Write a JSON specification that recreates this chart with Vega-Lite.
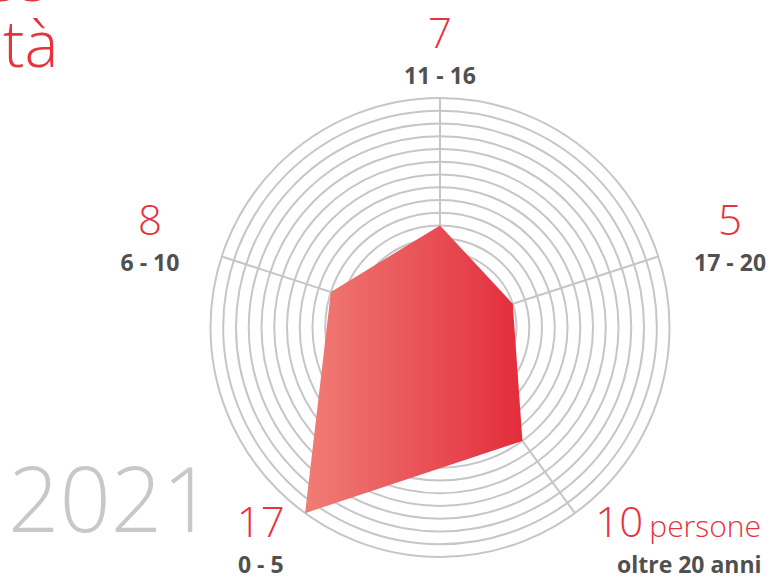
{
  "$schema": "https://vega.github.io/schema/vega-lite/v6.json",
  "width": 771,
  "height": 578,
  "autosize": {"type": "none"},
  "padding": 0,
  "background": "#ffffff",
  "config": {"view": {"stroke": null}},
  "datasets": {
    "fasce": [
      {"fascia": "11 - 16", "persone": 7},
      {"fascia": "17 - 20", "persone": 5},
      {"fascia": "oltre 20 anni", "persone": 10},
      {"fascia": "0 - 5", "persone": 17},
      {"fascia": "6 - 10", "persone": 8}
    ],
    "anelli": [
      {"anello": 0}, {"anello": 1}, {"anello": 2}, {"anello": 3}, {"anello": 4}, {"anello": 5},
      {"anello": 6}, {"anello": 7}, {"anello": 8}, {"anello": 9}, {"anello": 10}, {"anello": 11},
      {"anello": 12}, {"anello": 13}, {"anello": 14}, {"anello": 15}, {"anello": 16}, {"anello": 17}
    ],
    "testi": [
      {"titolo": "Le fasce\ndelle età", "anno": "2021"}
    ]
  },
  "layer": [
    {
      "data": {"name": "anelli"},
      "transform": [{"calculate": "0", "as": "centro"}],
      "mark": {"type": "arc", "theta": 0, "theta2": 6.2832, "filled": false, "stroke": "#c6c6c6", "strokeWidth": 2},
      "encoding": {
        "x": {"field": "centro", "type": "quantitative", "scale": {"domain": [-34.51, 25.96], "nice": false, "zero": false}, "axis": null},
        "y": {"field": "centro", "type": "quantitative", "scale": {"domain": [-19.65, 25.68], "nice": false, "zero": false}, "axis": null},
        "radius": {"field": "anello", "type": "quantitative", "stack": null, "scale": {"type": "linear", "domain": [-1, 17], "range": [0, 229.5], "zero": false}, "legend": null}
      }
    },
    {
      "data": {"name": "fasce"},
      "transform": [
        {"calculate": "indexof(['11 - 16', '17 - 20', 'oltre 20 anni', '0 - 5', '6 - 10'], datum.fascia) * 2 * PI / 5", "as": "ang"},
        {"calculate": "0", "as": "centro"},
        {"calculate": "18 * sin(datum.ang)", "as": "sx"},
        {"calculate": "18 * cos(datum.ang)", "as": "sy"}
      ],
      "mark": {"type": "rule", "stroke": "#c6c6c6", "strokeWidth": 2},
      "encoding": {
        "x": {"field": "centro", "type": "quantitative", "scale": {"domain": [-34.51, 25.96], "nice": false, "zero": false}, "axis": null},
        "y": {"field": "centro", "type": "quantitative", "scale": {"domain": [-19.65, 25.68], "nice": false, "zero": false}, "axis": null},
        "x2": {"field": "sx"},
        "y2": {"field": "sy"}
      }
    },
    {
      "data": {"name": "fasce"},
      "transform": [
        {"calculate": "indexof(['11 - 16', '17 - 20', 'oltre 20 anni', '0 - 5', '6 - 10'], datum.fascia)", "as": "ordine"},
        {"calculate": "datum.ordine * 2 * PI / 5", "as": "ang"},
        {"calculate": "(datum.persone + 1) * sin(datum.ang)", "as": "px"},
        {"calculate": "(datum.persone + 1) * cos(datum.ang)", "as": "py"}
      ],
      "mark": {
        "type": "line",
        "interpolate": "linear-closed",
        "strokeWidth": 0,
        "fill": {
          "gradient": "linear", "x1": 0, "y1": 0, "x2": 1, "y2": 0,
          "stops": [{"offset": 0, "color": "#f07d76"}, {"offset": 1, "color": "#e32d3c"}]
        }
      },
      "encoding": {
        "x": {"field": "px", "type": "quantitative", "scale": {"domain": [-34.51, 25.96], "nice": false, "zero": false}, "axis": null},
        "y": {"field": "py", "type": "quantitative", "scale": {"domain": [-19.65, 25.68], "nice": false, "zero": false}, "axis": null},
        "order": {"field": "ordine", "type": "quantitative"}
      }
    },
    {
      "data": {"name": "fasce"},
      "transform": [
        {"calculate": "indexof(['11 - 16', '17 - 20', 'oltre 20 anni', '0 - 5', '6 - 10'], datum.fascia) * 2 * PI / 5", "as": "ang"},
        {"calculate": "23.92 * sin(datum.ang)", "as": "lx"},
        {"calculate": "21.18 * cos(datum.ang)", "as": "ly"}
      ],
      "layer": [
        {
          "mark": {"type": "text", "align": "center", "baseline": "alphabetic", "dy": -9, "font": "Open Sans", "fontWeight": 300, "fontSize": 42, "color": "#e5333f"},
          "encoding": {"text": {"field": "persone", "type": "quantitative"}}
        },
        {
          "transform": [{"filter": "datum.fascia == 'oltre 20 anni'"}],
          "mark": {"type": "text", "align": "left", "baseline": "alphabetic", "dx": 30, "dy": -9, "font": "Open Sans", "fontWeight": 300, "fontSize": 30, "color": "#e5333f"},
          "encoding": {"text": {"value": "persone"}}
        },
        {
          "transform": [{"filter": "datum.fascia != 'oltre 20 anni'"}],
          "mark": {"type": "text", "align": "center", "baseline": "alphabetic", "dy": 27, "font": "Open Sans", "fontWeight": "bold", "fontSize": 23, "color": "#505050"},
          "encoding": {"text": {"field": "fascia", "type": "nominal"}}
        },
        {
          "transform": [{"filter": "datum.fascia == 'oltre 20 anni'"}],
          "mark": {"type": "text", "align": "center", "baseline": "alphabetic", "dx": 70, "dy": 27, "font": "Open Sans", "fontWeight": "bold", "fontSize": 23, "color": "#505050"},
          "encoding": {"text": {"field": "fascia", "type": "nominal"}}
        }
      ],
      "encoding": {
        "x": {"field": "lx", "type": "quantitative", "scale": {"domain": [-34.51, 25.96], "nice": false, "zero": false}, "axis": null},
        "y": {"field": "ly", "type": "quantitative", "scale": {"domain": [-19.65, 25.68], "nice": false, "zero": false}, "axis": null}
      }
    },
    {
      "data": {"name": "testi"},
      "transform": [{"calculate": "-33.88", "as": "ax"}, {"calculate": "-16.05", "as": "ay"}],
      "mark": {"type": "text", "align": "left", "baseline": "alphabetic", "font": "Open Sans", "fontWeight": 300, "fontSize": 90, "color": "#c8c8c8"},
      "encoding": {
        "x": {"field": "ax", "type": "quantitative", "scale": {"domain": [-34.51, 25.96], "nice": false, "zero": false}, "axis": null},
        "y": {"field": "ay", "type": "quantitative", "scale": {"domain": [-19.65, 25.68], "nice": false, "zero": false}, "axis": null},
        "text": {"field": "anno", "type": "nominal"}
      }
    },
    {
      "data": {"name": "testi"},
      "transform": [{"calculate": "-49.1", "as": "tx"}, {"calculate": "25.6", "as": "ty"}],
      "mark": {"type": "text", "align": "left", "baseline": "alphabetic", "lineBreak": "\n", "lineHeight": 66, "font": "Open Sans", "fontWeight": 300, "fontSize": 64, "color": "#e5333f"},
      "encoding": {
        "x": {"field": "tx", "type": "quantitative", "scale": {"domain": [-34.51, 25.96], "nice": false, "zero": false}, "axis": null},
        "y": {"field": "ty", "type": "quantitative", "scale": {"domain": [-19.65, 25.68], "nice": false, "zero": false}, "axis": null},
        "text": {"field": "titolo", "type": "nominal"}
      }
    }
  ]
}
